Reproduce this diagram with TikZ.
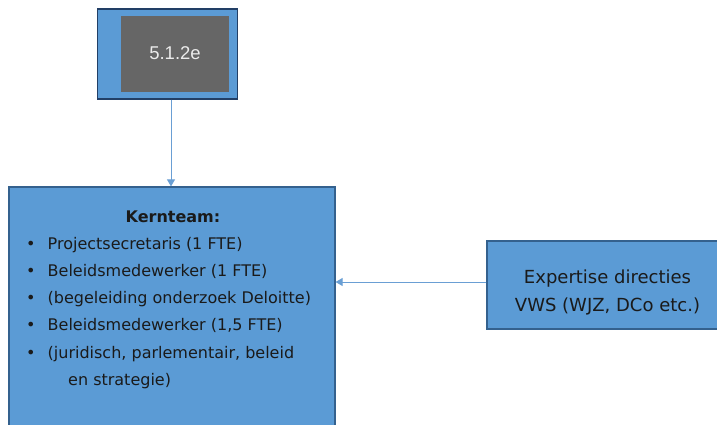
\documentclass[tikz,border=0pt]{standalone}
\usepackage{fontspec}
\setmainfont{DejaVu Sans}
\newfontfamily\codefont{Liberation Sans}
\usetikzlibrary{arrows.meta}
\definecolor{boxblue}{HTML}{5B9BD5}
\definecolor{boxedge}{HTML}{34618E}
\definecolor{topedge}{HTML}{223F66}
\definecolor{codegray}{HTML}{666666}
\definecolor{linkblue}{HTML}{6A9FD4}
\definecolor{textdark}{HTML}{1A1A1A}
\begin{document}
\begin{tikzpicture}[x=1pt,y=-1pt,
		bluebox/.style={draw=boxedge, line width=1.2pt, fill=boxblue, inner sep=0pt},
		link/.style={draw=linkblue, line width=1pt, -{Triangle[width=8pt,length=7pt]}},
		item/.style={anchor=base west, inner sep=0pt, text=textdark, font=\fontsize{16}{27}\selectfont}]
	\useasboundingbox (0,0) rectangle (717,425);
	% boxes
	\node[bluebox, draw=topedge, line width=1.5pt, minimum width=140pt, minimum height=90pt] (top) at (167.5,54) {};
	\node[fill=codegray, inner sep=0pt, minimum width=108pt, minimum height=76pt] (code) at (175,54) {};
	\node[anchor=base, inner sep=0pt, text=white!92!black, font=\codefont\fontsize{18.5}{20}\selectfont] (codetext) at (175,60) {5.1.2e};
	\node[bluebox, minimum width=326pt, minimum height=253pt] (kern) at (172,313.5) {};
	\node[bluebox, minimum width=253pt, minimum height=88pt] (expert) at (613.5,285) {};
	% kernteam text
	\node[item, anchor=base, font=\bfseries\fontsize{16}{27}\selectfont] (title) at (173,222) {Kernteam:};
	\foreach \i/\y/\t in {1/249/{Projectsecretaris (1 FTE)}, 2/276/{Beleidsmedewerker (1 FTE)},
			3/303.5/{(begeleiding onderzoek Deloitte)}, 4/330.5/{Beleidsmedewerker (1,5 FTE)},
			5/358/{(juridisch, parlementair, beleid}}
		\node[item] (item\i) at (26,\y) {\makebox[21.5pt][l]{•}\t};
	\node[item] (item6) at (68,385) {en strategie)};
	% expertise text
	\node[item, anchor=base, font=\fontsize{18}{27}\selectfont] (expert1) at (607.5,283) {Expertise directies};
	\node[item, anchor=base, font=\fontsize{18}{27}\selectfont] (expert2) at (607.5,311) {VWS (WJZ, DCo etc.)};
	% connectors
	\draw[link] ([xshift=3.5pt]top.south) -- ([xshift=3.5pt]top.south |- kern.north);
	\draw[link] ([yshift=3pt]expert.west) -- ([yshift=3pt]expert.west -| kern.east);
\end{tikzpicture}
\end{document}
